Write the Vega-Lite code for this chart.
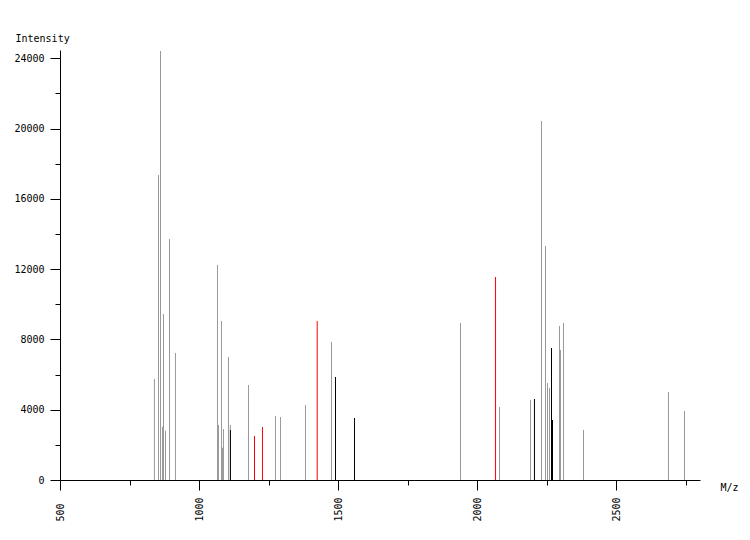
{
  "$schema": "https://vega.github.io/schema/vega-lite/v6.json",
  "width": 640,
  "height": 430,
  "autosize": {"type": "none"},
  "padding": {"left": 60, "top": 50, "right": 50, "bottom": 60},
  "background": "white",
  "config": {
    "view": {"stroke": null},
    "axis": {
      "grid": false,
      "domainColor": "#000000",
      "domainWidth": 1,
      "tickColor": "#000000",
      "tickWidth": 1,
      "labelColor": "#000000",
      "labelFont": "DejaVu Sans Mono",
      "labelFontSize": 10,
      "titleFont": "DejaVu Sans Mono",
      "titleFontSize": 10,
      "titleFontWeight": "normal",
      "titleColor": "#000000",
      "labelOverlap": false,
      "labelFlush": false,
      "labelBound": false
    }
  },
  "data": {
    "values": [
      {"mz": 839.6, "intensity": 5748, "kind": "gray"},
      {"mz": 854.3, "intensity": 17358, "kind": "gray"},
      {"mz": 861.5, "intensity": 24414, "kind": "gray"},
      {"mz": 868.6, "intensity": 3033, "kind": "gray"},
      {"mz": 872.3, "intensity": 9447, "kind": "gray"},
      {"mz": 879.5, "intensity": 2806, "kind": "gray"},
      {"mz": 893.9, "intensity": 13715, "kind": "gray"},
      {"mz": 915.3, "intensity": 7228, "kind": "gray"},
      {"mz": 1066.5, "intensity": 12236, "kind": "gray"},
      {"mz": 1070.0, "intensity": 3130, "kind": "gray"},
      {"mz": 1080.8, "intensity": 9049, "kind": "gray"},
      {"mz": 1084.4, "intensity": 1838, "kind": "gray"},
      {"mz": 1088.0, "intensity": 2902, "kind": "gray"},
      {"mz": 1106.0, "intensity": 7000, "kind": "gray"},
      {"mz": 1112.6, "intensity": 3130, "kind": "gray"},
      {"mz": 1178.0, "intensity": 5406, "kind": "gray"},
      {"mz": 1275.1, "intensity": 3642, "kind": "gray"},
      {"mz": 1293.1, "intensity": 3585, "kind": "gray"},
      {"mz": 1383.0, "intensity": 4268, "kind": "gray"},
      {"mz": 1476.6, "intensity": 7854, "kind": "gray"},
      {"mz": 1940.6, "intensity": 8935, "kind": "gray"},
      {"mz": 2080.8, "intensity": 4154, "kind": "gray"},
      {"mz": 2192.4, "intensity": 4553, "kind": "gray"},
      {"mz": 2231.9, "intensity": 20431, "kind": "gray"},
      {"mz": 2246.3, "intensity": 13317, "kind": "gray"},
      {"mz": 2253.5, "intensity": 5520, "kind": "gray"},
      {"mz": 2260.6, "intensity": 5236, "kind": "gray"},
      {"mz": 2296.6, "intensity": 8764, "kind": "gray"},
      {"mz": 2300.2, "intensity": 7398, "kind": "gray"},
      {"mz": 2311.0, "intensity": 8935, "kind": "gray"},
      {"mz": 2383.0, "intensity": 2846, "kind": "gray"},
      {"mz": 2688.6, "intensity": 5008, "kind": "gray"},
      {"mz": 2746.3, "intensity": 3927, "kind": "gray"},
      {"mz": 1113.0, "intensity": 2846, "kind": "black"},
      {"mz": 1490.9, "intensity": 5862, "kind": "black"},
      {"mz": 1559.3, "intensity": 3528, "kind": "black"},
      {"mz": 2206.6, "intensity": 4610, "kind": "black"},
      {"mz": 2267.9, "intensity": 7512, "kind": "black"},
      {"mz": 2271.5, "intensity": 3415, "kind": "black"},
      {"mz": 1199.6, "intensity": 2504, "kind": "red"},
      {"mz": 1228.3, "intensity": 3016, "kind": "red"},
      {"mz": 1425.1, "intensity": 9049, "kind": "red"},
      {"mz": 2066.6, "intensity": 11553, "kind": "red"}
    ]
  },
  "mark": {"type": "rule", "strokeWidth": 1},
  "encoding": {
    "x": {
      "field": "mz",
      "type": "quantitative",
      "scale": {"domain": [500, 2802], "nice": false, "zero": false},
      "axis": {
        "values": [500, 750, 1000, 1250, 1500, 1750, 2000, 2250, 2500, 2750],
        "format": "d",
        "tickSize": {"condition": {"test": "datum.value % 500 === 0", "value": 10}, "value": 5},
        "labelExpr": "datum.value % 500 === 0 ? datum.label : ''",
        "labelAngle": -90,
        "labelAlign": "left",
        "labelBaseline": "middle",
        "labelPadding": 31,
        "title": "M/z",
        "titleAngle": 0,
        "titleX": 660,
        "titleY": 7,
        "titleAlign": "left",
        "titleBaseline": "middle"
      }
    },
    "y": {
      "field": "intensity",
      "type": "quantitative",
      "scale": {"domain": [0, 24472], "nice": false},
      "axis": {
        "values": [0, 2000, 4000, 6000, 8000, 10000, 12000, 14000, 16000, 18000, 20000, 22000, 24000],
        "format": "d",
        "tickSize": {"condition": {"test": "datum.value % 4000 === 0", "value": 10}, "value": 5},
        "labelExpr": "datum.value % 4000 === 0 ? datum.label : ''",
        "labelPadding": 6,
        "title": "Intensity",
        "titleAngle": 0,
        "titleX": -45,
        "titleY": -12,
        "titleAlign": "left",
        "titleBaseline": "middle"
      }
    },
    "y2": {"datum": 0},
    "color": {
      "field": "kind",
      "type": "nominal",
      "scale": {"domain": ["gray", "black", "red"], "range": ["#999999", "#000000", "#ff0000"]},
      "legend": null
    }
  }
}
